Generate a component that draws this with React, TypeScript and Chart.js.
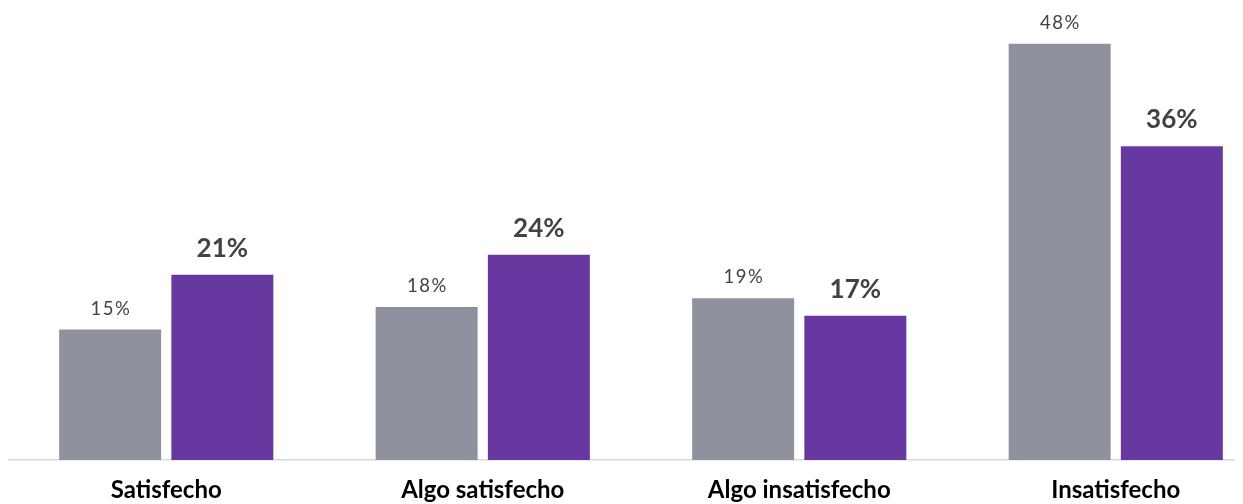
import React, { useEffect, useRef } from "react";
import { Chart, registerables } from "chart.js";

Chart.register(...registerables);

const categories = ["Satisfecho", "Algo satisfecho", "Algo insatisfecho", "Insatisfecho"];
const seriesGray = [15.0, 17.6, 18.6, 47.9];
const seriesPurple = [21.3, 23.6, 16.6, 36.1];
const grayLabels = ["15%", "18%", "19%", "48%"];
const purpleLabels = ["21%", "24%", "17%", "36%"];

const GRAY = "#8E929E";
const PURPLE = "#6738A0";

const labelPlugin = {
  id: "barLabels",
  afterDatasetsDraw(chart: any) {
    const ctx = chart.ctx;
    ctx.save();
    ctx.textAlign = "center";
    ctx.textBaseline = "alphabetic";
    ctx.fillStyle = "#424242";
    chart.data.datasets.forEach((ds: any, di: number) => {
      const meta = chart.getDatasetMeta(di);
      const texts = di === 0 ? grayLabels : purpleLabels;
      meta.data.forEach((el: any, i: number) => {
        if (di === 0) {
          ctx.font = "400 18.5px Lato";
          (ctx as any).letterSpacing = "1.5px";
          ctx.fillText(texts[i], el.x + 0.75, el.y - 15);
        } else {
          ctx.font = "700 26px Lato";
          (ctx as any).letterSpacing = "0px";
          ctx.fillText(texts[i], el.x, el.y - 18);
        }
      });
    });
    ctx.restore();
  },
};

export default function App() {
  const ref = useRef<HTMLCanvasElement | null>(null);
  useEffect(() => {
    if (!ref.current) return;
    const chart = new Chart(ref.current, {
      type: "bar",
      data: {
        labels: categories,
        datasets: [
          {
            data: seriesGray,
            backgroundColor: GRAY,
            categoryPercentage: 0.709,
            barPercentage: 0.909,
          },
          {
            data: seriesPurple,
            backgroundColor: PURPLE,
            categoryPercentage: 0.709,
            barPercentage: 0.909,
          },
        ],
      },
      options: {
        responsive: false,
        animation: false,
        devicePixelRatio: 1,
        layout: { padding: 0 },
        plugins: { legend: { display: false }, tooltip: { enabled: false } },
        scales: {
          x: {
            grid: { display: false, drawTicks: false },
            border: { display: true, color: "#D9D9D9", width: 1.5 },
            ticks: {
              color: "#000000",
              font: { family: "Lato", size: 24, weight: "bold" },
              padding: 16,
              maxRotation: 0,
              autoSkip: false,
            },
            afterFit(scale: any) {
              scale.height = 44;
            },
          },
          y: {
            display: false,
            min: 0,
            max: 52,
          },
        },
      },
      plugins: [labelPlugin],
    });
    return () => chart.destroy();
  }, []);
  return (
    <div style={{ width: 1235, height: 496, overflow: "hidden" }}>
      <div style={{ width: 1266, height: 496 }}>
        <canvas ref={ref} width={1266} height={496} style={{ display: "block" }} />
      </div>
    </div>
  );
}
